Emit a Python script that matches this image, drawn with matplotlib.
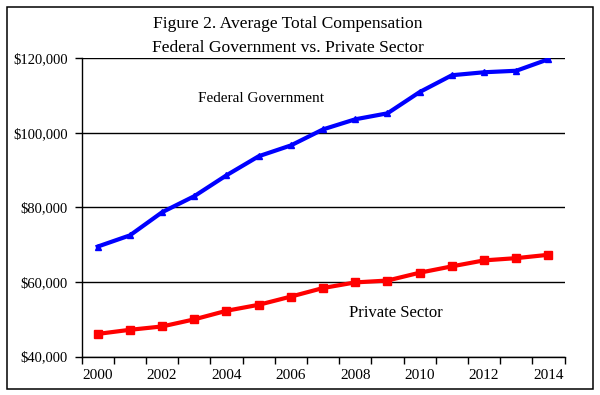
import numpy as np
import matplotlib
matplotlib.use("Agg")
import matplotlib.pyplot as plt
from matplotlib.patches import Rectangle
from matplotlib.ticker import FuncFormatter

plt.rcParams["font.family"] = ["Liberation Serif", "DejaVu Serif"]

years = list(range(2000, 2015))
federal = [69500, 72500, 78700, 83000, 88600, 93700, 96600, 100900,
           103600, 105200, 110900, 115400, 116200, 116600, 119700]
private = [46100, 47200, 48100, 50000, 52300, 53900, 56100, 58400,
           59900, 60400, 62500, 64200, 65800, 66400, 67300]
year_labels = [2000, 2002, 2004, 2006, 2008, 2010, 2012, 2014]
y_ticks = [40000, 60000, 80000, 100000, 120000]

fig = plt.figure(figsize=(6, 3.95), dpi=100)
ax = fig.add_axes([0.136, 0.097, 0.805, 0.756])

# border round the whole chart
fig.patches.append(Rectangle((0.012, 0.015), 0.976, 0.968, transform=fig.transFigure,
                             fill=False, edgecolor="black", linewidth=1.1))

ax.plot(years, federal, color="#0000ff", lw=3, marker="^", ms=5, zorder=3)
ax.plot(years, private, color="#ff0000", lw=3, marker="s", ms=5.5, zorder=3)

ax.set_xlim(1999.5, 2014.5)
ax.set_ylim(40000, 120000)
ax.set_yticks(y_ticks)
ax.yaxis.set_major_formatter(FuncFormatter(lambda v, p: "${:,.0f}".format(v)))
ax.set_xticks(year_labels)
ax.set_xticks(np.arange(1999.5, 2015, 1.0), minor=True)
ax.tick_params(axis="x", which="major", length=0, pad=9, labelsize=11)
ax.tick_params(axis="x", which="minor", length=5, width=1, direction="out")
ax.tick_params(axis="y", length=5, width=1, pad=5, labelsize=10.5)
ax.grid(axis="y", color="black", lw=1)
ax.spines["top"].set_visible(False)
ax.spines["right"].set_visible(False)
for s in ["left", "bottom"]:
    ax.spines[s].set_linewidth(1)

ax.text(2003.1, 109300, "Federal Government", fontsize=11, va="center")
ax.text(2007.8, 51800, "Private Sector", fontsize=12, va="center")

fig.text(0.48, 0.938, "Figure 2. Average Total Compensation", ha="center", va="center", fontsize=12.6)
fig.text(0.48, 0.879, "Federal Government vs. Private Sector", ha="center", va="center", fontsize=12.6)

fig.savefig("out.png", dpi=100)
